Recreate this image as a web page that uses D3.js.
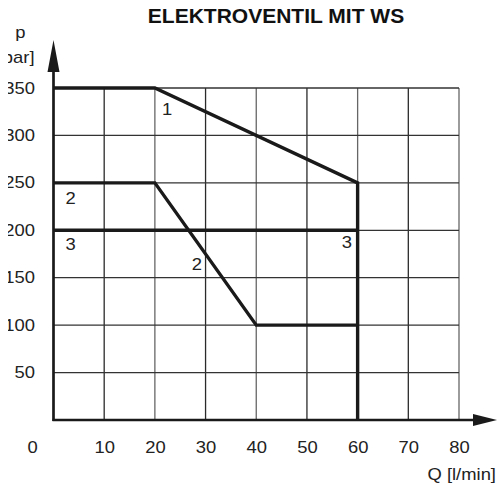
<!DOCTYPE html>
<html>
<head>
<meta charset="utf-8">
<script src="https://cdn.jsdelivr.net/npm/d3@7"></script>
<style>
  body { margin: 0; background: #fff; }
  text { font-family: "Liberation Sans", Arial, sans-serif; fill: #222; }
</style>
</head>
<body>
<div id="chart"></div>
<script>
// chart data
var title = "ELEKTROVENTIL MIT WS";
var xTicks = [0, 10, 20, 30, 40, 50, 60, 70, 80];
var yTicks = [50, 100, 150, 200, 250, 300, 350];

// curves: [Q, p]
var curve1 = [[0, 350], [20, 350], [60, 250], [60, 0]];
var curve2 = [[0, 250], [20, 250], [40, 100], [60, 100]];
var curve3 = [[0, 200], [60, 200]];

// curve labels: [Q, p, text]
var curveLabels = [
  [22.4, 322, "1"],
  [3.4, 228, "2"],
  [3.4, 179, "3"],
  [28.3, 158, "2"],
  [57.9, 181, "3"]
];

var width = 497, height = 488;
var sx = 1.15;   // the source lettering is a bit wide

var svg = d3.select("#chart")
  .append("svg")
  .attr("width", width)
  .attr("height", height);

var x = d3.scaleLinear().domain([0, 80]).range([53.5, 459]);
var y = d3.scaleLinear().domain([0, 350]).range([420, 88]);

// widen a text selection horizontally, keeping its anchor point
function stretch(sel) {
  sel.each(function() {
    var t = d3.select(this);
    var tx = +t.attr("x") || 0;
    t.attr("x", tx / sx).attr("transform", "scale(" + sx + ",1)");
  });
}

// title
svg.append("text")
  .attr("x", 276)
  .attr("y", 23)
  .attr("text-anchor", "middle")
  .style("font-size", "21px")
  .style("font-weight", "bold")
  .style("fill", "#111")
  .text(title);

// grid
svg.append("g").selectAll("line")
  .data(xTicks.slice(1))
  .enter().append("line")
  .attr("x1", d => x(d)).attr("x2", d => x(d))
  .attr("y1", y(0)).attr("y2", y(350))
  .attr("stroke", (d, i) => i % 2 ? "#666" : "#2a2a2a")
  .attr("stroke-width", 1.3);

svg.append("g").selectAll("line")
  .data(yTicks)
  .enter().append("line")
  .attr("x1", x(0)).attr("x2", x(80))
  .attr("y1", d => y(d)).attr("y2", d => y(d))
  .attr("stroke", "#333")
  .attr("stroke-width", 1.3);

// axes with arrows
svg.append("line")
  .attr("x1", x(0)).attr("x2", x(0))
  .attr("y1", y(0) + 1).attr("y2", 70)
  .attr("stroke", "#1a1a1a").attr("stroke-width", 2.7);
svg.append("path")
  .attr("d", "M" + x(0) + ",40 L" + (x(0) - 6) + ",72 L" + (x(0) + 6) + ",72 Z")
  .attr("fill", "#1a1a1a");

svg.append("line")
  .attr("x1", x(0) - 1).attr("x2", 475)
  .attr("y1", y(0)).attr("y2", y(0))
  .attr("stroke", "#1a1a1a").attr("stroke-width", 2.7);
svg.append("path")
  .attr("d", "M497," + y(0) + " L473," + (y(0) - 6) + " L473," + (y(0) + 6) + " Z")
  .attr("fill", "#1a1a1a");

// tick labels
var yAxis = svg.append("g")
  .attr("transform", "translate(" + x(0) + ",0)")
  .call(d3.axisLeft(y).tickValues(yTicks).tickSize(0).tickPadding(18.5));
yAxis.select(".domain").remove();
yAxis.selectAll("text")
  .style("font-size", "16px")
  .style("font-family", "'Liberation Sans', Arial, sans-serif")
  .attr("fill", "#222")
  .call(stretch);

var xAxis = svg.append("g")
  .attr("transform", "translate(0," + y(0) + ")")
  .call(d3.axisBottom(x).tickValues(xTicks).tickSize(0).tickPadding(21.5));
xAxis.select(".domain").remove();
xAxis.selectAll("text")
  .style("font-size", "16px")
  .style("font-family", "'Liberation Sans', Arial, sans-serif")
  .attr("fill", "#222")
  .attr("x", d => d === 0 ? -21.5 : 0)
  .call(stretch);

// axis titles
svg.append("text")
  .attr("x", 20.5).attr("y", 38)
  .attr("text-anchor", "middle")
  .style("font-size", "16px")
  .text("p")
  .call(stretch);
svg.append("text")
  .attr("x", 34.5).attr("y", 63)
  .attr("text-anchor", "end")
  .style("font-size", "16px")
  .text("[bar]")
  .call(stretch);
svg.append("text")
  .attr("x", 496).attr("y", 480)
  .attr("text-anchor", "end")
  .style("font-size", "16px")
  .text("Q [l/min]")
  .call(stretch);

// the source picture is cut off at its left edge
svg.append("rect")
  .attr("x", 0).attr("y", 25)
  .attr("width", 8).attr("height", 380)
  .attr("fill", "#fff");

// curves
var line = d3.line().x(d => x(d[0])).y(d => y(d[1]));
[curve1, curve2, curve3].forEach(function(c) {
  svg.append("path")
    .attr("d", line(c))
    .attr("fill", "none")
    .attr("stroke", "#1a1a1a")
    .attr("stroke-width", 3.4)
    .attr("stroke-linejoin", "miter");
});

// curve labels
svg.append("g").selectAll("text")
  .data(curveLabels)
  .enter().append("text")
  .attr("x", d => x(d[0]))
  .attr("y", d => y(d[1]))
  .attr("text-anchor", "middle")
  .style("font-size", "16px")
  .text(d => d[2])
  .call(stretch);
</script>
</body>
</html>
